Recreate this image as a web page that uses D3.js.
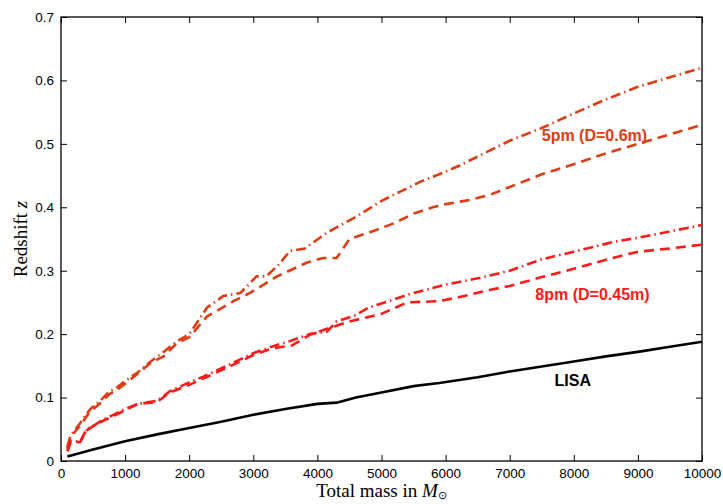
<!DOCTYPE html>
<html><head><meta charset="utf-8">
<script src="https://cdn.jsdelivr.net/npm/d3@7"></script>
<style>body{margin:0;background:#fff}svg{display:block}</style>
</head><body>
<svg id="c" width="723" height="504"></svg>
<script>
const xTicks = [0,1000,2000,3000,4000,5000,6000,7000,8000,9000,10000];
const yTicks = [0,0.1,0.2,0.3,0.4,0.5,0.6,0.7];

const lisaMass = [100,500,1000,1500,2000,2500,3000,3500,4000,4300,4600,5000,5500,5900,6500,7000,7500,8000,8500,9000,9500,10000];
const lisaZ    = [0.007,0.018,0.031,0.042,0.052,0.062,0.073,0.082,0.09,0.092,0.1,0.108,0.118,0.123,0.132,0.141,0.149,0.157,0.165,0.172,0.18,0.188];

const pm5DashDotMass = [100,150,300,450,600,760,850,1000,1200,1400,1600,1800,2000,2280,2530,2800,3050,3200,3400,3570,3800,4150,4600,5000,5300,5600,5900,6200,6600,7000,7500,8000,8500,9000,9500,10000];
const pm5DashDotZ    = [0.023,0.04,0.06,0.081,0.094,0.11,0.114,0.126,0.14,0.157,0.172,0.188,0.2,0.242,0.26,0.265,0.291,0.291,0.31,0.331,0.335,0.36,0.385,0.41,0.425,0.44,0.452,0.465,0.485,0.505,0.525,0.548,0.57,0.59,0.605,0.62];

const pm5DashMass = [100,150,300,450,600,760,850,1000,1200,1400,1600,1800,2000,2280,2690,2950,3370,3840,4090,4300,4500,4800,5200,5500,5800,6000,6400,6700,7000,7500,8000,8500,9000,9500,10000];
const pm5DashZ    = [0.02,0.038,0.056,0.078,0.09,0.106,0.11,0.122,0.138,0.155,0.165,0.185,0.195,0.228,0.252,0.265,0.291,0.313,0.32,0.32,0.35,0.36,0.375,0.39,0.4,0.405,0.412,0.42,0.432,0.452,0.468,0.485,0.5,0.515,0.53];

const pm8DashDotMass = [100,150,300,400,500,650,800,1000,1200,1500,1700,2000,2220,2690,3000,3310,3570,3880,4150,4300,4600,4800,5200,5500,6000,6500,7000,7500,8000,8600,9000,9500,10000];
const pm8DashDotZ    = [0.018,0.031,0.031,0.05,0.055,0.065,0.072,0.082,0.09,0.095,0.11,0.124,0.133,0.155,0.17,0.181,0.189,0.2,0.204,0.22,0.23,0.242,0.255,0.265,0.278,0.288,0.3,0.318,0.33,0.345,0.352,0.362,0.372];

const pm8DashMass = [100,150,300,400,500,650,800,1000,1200,1500,1700,2000,2220,2690,3000,3310,3600,3900,4200,4500,5000,5400,5900,6200,6700,7000,7500,8000,8600,9000,9400,10000];
const pm8DashZ    = [0.015,0.03,0.03,0.048,0.055,0.063,0.07,0.08,0.09,0.093,0.108,0.12,0.13,0.152,0.167,0.178,0.182,0.2,0.21,0.22,0.232,0.25,0.252,0.258,0.27,0.276,0.29,0.303,0.32,0.33,0.334,0.341];

const labels = [
  {text:"5pm (D=0.6m)", mass:7500, z:0.505, color:"#e03c14"},
  {text:"8pm (D=0.45m)", mass:7400, z:0.254, color:"#ff1a1a"},
  {text:"LISA", mass:7700, z:0.118, color:"#000"}
];

const svg = d3.select("#c");
const L=61, R=702, T=17, B=461;
const x = d3.scaleLinear().domain([0,10000]).range([L,R]);
const y = d3.scaleLinear().domain([0,0.7]).range([B,T]);
const tickFont = "'Liberation Sans', Arial, Helvetica, sans-serif";

const gx = svg.append("g").attr("transform",`translate(0,${B})`)
  .call(d3.axisBottom(x).tickValues(xTicks).tickSizeInner(-6).tickSizeOuter(0).tickPadding(10).tickFormat(d3.format("d")));
const gy = svg.append("g").attr("transform",`translate(${L},0)`)
  .call(d3.axisLeft(y).tickValues(yTicks).tickSizeInner(-6).tickSizeOuter(0).tickPadding(7).tickFormat(d=>d===0?"0":d3.format(".1f")(d)));
const gt = svg.append("g").attr("transform",`translate(0,${T})`)
  .call(d3.axisTop(x).tickValues(xTicks).tickSizeInner(-6).tickSizeOuter(0).tickFormat(""));
const gr = svg.append("g").attr("transform",`translate(${R},0)`)
  .call(d3.axisRight(y).tickValues(yTicks).tickSizeInner(-6).tickSizeOuter(0).tickFormat(""));
[gx,gy,gt,gr].forEach(g=>{
  g.select(".domain").remove();
  g.selectAll("line").attr("stroke","#000").attr("stroke-width",1);
  g.selectAll("text").attr("font-family",tickFont).attr("font-size","13.5px").attr("fill","#000");
});
gx.selectAll("text").attr("dy","0.5em");

svg.append("rect").attr("x",L).attr("y",T).attr("width",R-L).attr("height",B-T)
  .attr("fill","none").attr("stroke","#000").attr("stroke-width",1.3);

const line = d3.line().x(d=>x(d[0])).y(d=>y(d[1]));
function draw(mass, z, color, dash, w){
  svg.append("path").datum(d3.zip(mass,z)).attr("d",line)
    .attr("fill","none").attr("stroke",color).attr("stroke-width",w)
    .attr("stroke-dasharray",dash);
}
draw(pm5DashDotMass,pm5DashDotZ,"#e03c14","10,4,1.5,4",2.6);
draw(pm5DashMass,pm5DashZ,"#e03c14","10,6",2.6);
draw(pm8DashDotMass,pm8DashDotZ,"#ff1a1a","10,4,1.5,4",2.6);
draw(pm8DashMass,pm8DashZ,"#ff1a1a","10,6",2.6);
draw(lisaMass,lisaZ,"#000",null,2.6);

labels.forEach(l=>{
  svg.append("text").attr("x",x(l.mass)).attr("y",y(l.z)).text(l.text)
    .attr("font-family",tickFont).attr("font-weight","bold").attr("font-size","16px").attr("fill",l.color);
});

const yt = svg.append("text").attr("transform",`translate(27,${(T+B)/2}) rotate(-90)`)
  .attr("text-anchor","middle").attr("font-family","'Liberation Serif', serif").attr("font-size","19px");
yt.append("tspan").text("Redshift ");
yt.append("tspan").attr("font-style","italic").text("z");

const xt = svg.append("text").attr("x",(L+R)/2).attr("y",497)
  .attr("text-anchor","middle").attr("font-family","'Liberation Serif', serif").attr("font-size","19px");
xt.append("tspan").text("Total mass in ");
xt.append("tspan").attr("font-style","italic").text("M");
xt.append("tspan").attr("font-size","11px").attr("dy","2").text("⊙");
</script>
</body></html>
